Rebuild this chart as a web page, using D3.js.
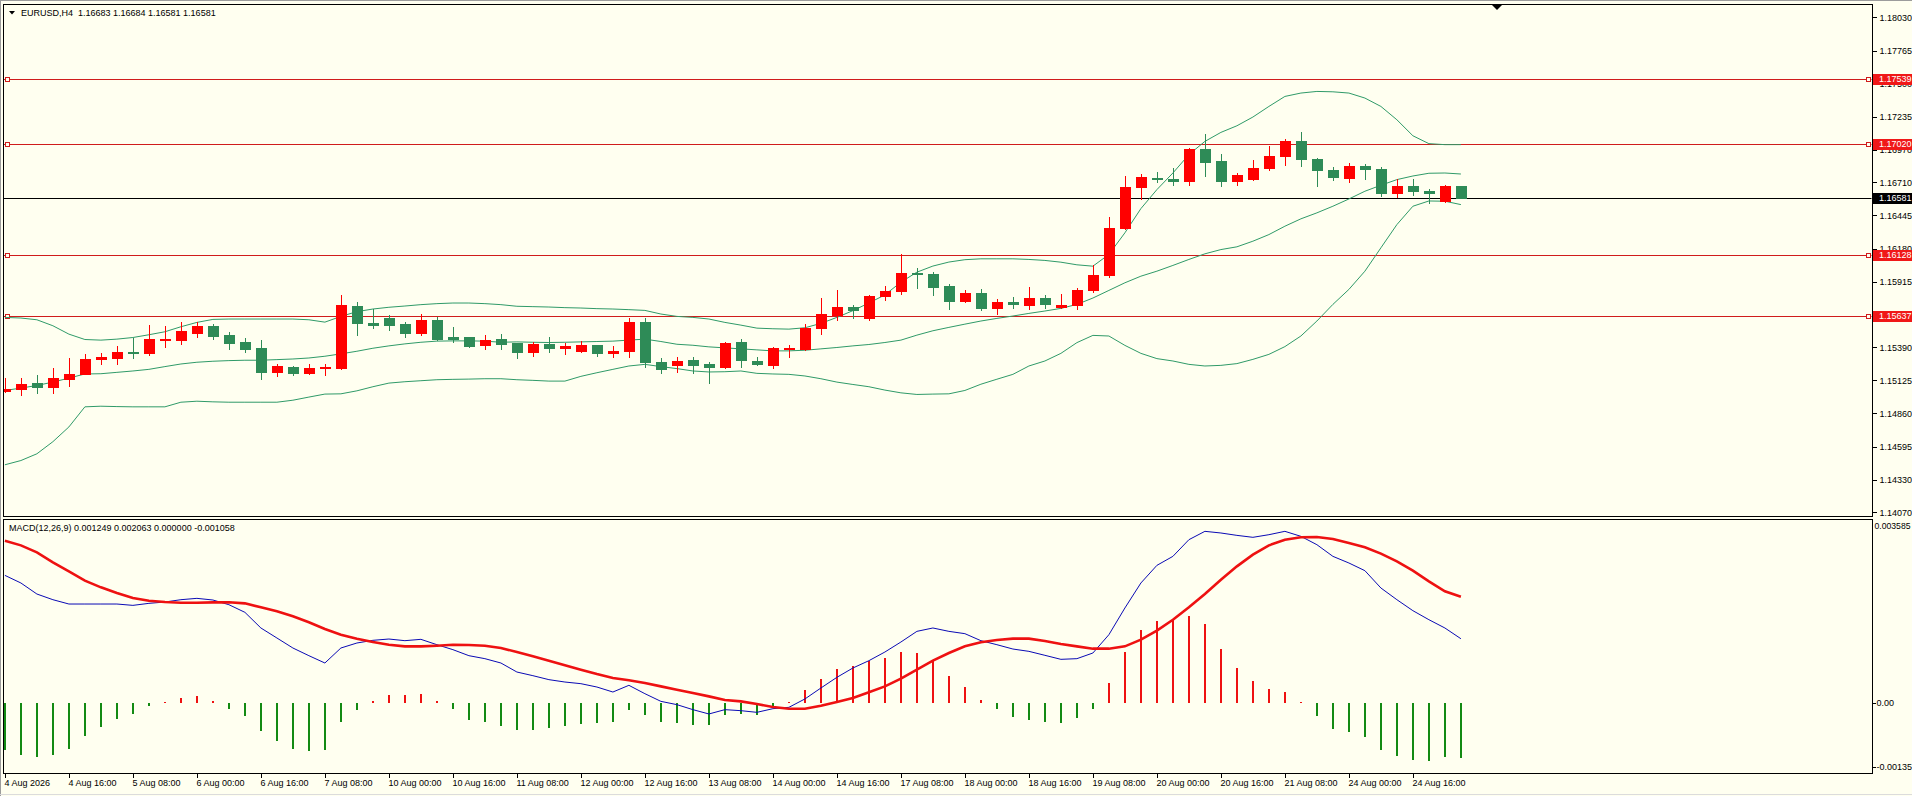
<!DOCTYPE html>
<html><head><meta charset="utf-8">
<script src="https://cdn.jsdelivr.net/npm/d3@7/dist/d3.min.js"></script>
<style>
html,body{margin:0;padding:0;background:#fffff0;overflow:hidden;}
svg{display:block;}
text{font-family:"Liberation Sans",Arial,sans-serif;font-size:9px;}
</style></head><body>
<svg id="c" width="1912" height="796"></svg>
<script>
// ---------- categories ----------
const times = [
"4 Aug 00:00","4 Aug 04:00","4 Aug 08:00","4 Aug 12:00","4 Aug 16:00","4 Aug 20:00",
"5 Aug 00:00","5 Aug 04:00","5 Aug 08:00","5 Aug 12:00","5 Aug 16:00","5 Aug 20:00",
"6 Aug 00:00","6 Aug 04:00","6 Aug 08:00","6 Aug 12:00","6 Aug 16:00","6 Aug 20:00",
"7 Aug 00:00","7 Aug 04:00","7 Aug 08:00","7 Aug 12:00","7 Aug 16:00","7 Aug 20:00",
"10 Aug 00:00","10 Aug 04:00","10 Aug 08:00","10 Aug 12:00","10 Aug 16:00","10 Aug 20:00",
"11 Aug 00:00","11 Aug 04:00","11 Aug 08:00","11 Aug 12:00","11 Aug 16:00","11 Aug 20:00",
"12 Aug 00:00","12 Aug 04:00","12 Aug 08:00","12 Aug 12:00","12 Aug 16:00","12 Aug 20:00",
"13 Aug 00:00","13 Aug 04:00","13 Aug 08:00","13 Aug 12:00","13 Aug 16:00","13 Aug 20:00",
"14 Aug 00:00","14 Aug 04:00","14 Aug 08:00","14 Aug 12:00","14 Aug 16:00","14 Aug 20:00",
"17 Aug 00:00","17 Aug 04:00","17 Aug 08:00","17 Aug 12:00","17 Aug 16:00","17 Aug 20:00",
"18 Aug 00:00","18 Aug 04:00","18 Aug 08:00","18 Aug 12:00","18 Aug 16:00","18 Aug 20:00",
"19 Aug 00:00","19 Aug 04:00","19 Aug 08:00","19 Aug 12:00","19 Aug 16:00","19 Aug 20:00",
"20 Aug 00:00","20 Aug 04:00","20 Aug 08:00","20 Aug 12:00","20 Aug 16:00","20 Aug 20:00",
"21 Aug 00:00","21 Aug 04:00","21 Aug 08:00","21 Aug 12:00","21 Aug 16:00","21 Aug 20:00",
"24 Aug 00:00","24 Aug 04:00","24 Aug 08:00","24 Aug 12:00","24 Aug 16:00","24 Aug 20:00",
"25 Aug 00:00","25 Aug 04:00"];

const xTickCats = ["4 Aug 00:00","4 Aug 16:00","5 Aug 08:00","6 Aug 00:00","6 Aug 16:00","7 Aug 08:00",
"10 Aug 00:00","10 Aug 16:00","11 Aug 08:00","12 Aug 00:00","12 Aug 16:00","13 Aug 08:00",
"14 Aug 00:00","14 Aug 16:00","17 Aug 08:00","18 Aug 00:00","18 Aug 16:00","19 Aug 08:00",
"20 Aug 00:00","20 Aug 16:00","21 Aug 08:00","24 Aug 00:00","24 Aug 16:00"];
const xTickLabels = ["4 Aug 2026","4 Aug 16:00","5 Aug 08:00","6 Aug 00:00","6 Aug 16:00","7 Aug 08:00",
"10 Aug 00:00","10 Aug 16:00","11 Aug 08:00","12 Aug 00:00","12 Aug 16:00","13 Aug 08:00",
"14 Aug 00:00","14 Aug 16:00","17 Aug 08:00","18 Aug 00:00","18 Aug 16:00","19 Aug 08:00",
"20 Aug 00:00","20 Aug 16:00","21 Aug 08:00","24 Aug 00:00","24 Aug 16:00"];

const priceTicks = [1.18030,1.17765,1.17500,1.17235,1.16970,1.16710,1.16445,1.16180,1.15915,1.15650,1.15390,1.15125,1.14860,1.14595,1.14330,1.14070];
const macdTicks = [0.003585, 0, -0.00135];
const macdTickLabels = ["0.003585","0.00","-0.00135"];

const levels = [1.17539, 1.17020, 1.16128, 1.15637];
const bid = 1.16581;

// ---------- OHLC ----------
const open = [1.15039,1.15052,1.15100,1.15074,1.15138,1.15178,1.15296,1.15307,1.15355,1.15345,
1.15452,1.15452,1.15508,1.15557,1.15487,1.15430,1.15382,1.15192,1.15229,1.15184,
1.15227,1.15224,1.15717,1.15581,1.15624,1.15575,1.15506,1.15607,1.15471,1.15471,
1.15412,1.15455,1.15422,1.15353,1.15417,1.15387,1.15363,1.15404,1.15345,1.15363,
1.15589,1.15275,1.15251,1.15286,1.15253,1.15235,1.15436,1.15283,1.15251,1.15379,
1.15379,1.15546,1.15648,1.15709,1.15621,1.15798,1.15838,1.15986,1.15978,1.15881,
1.15758,1.15825,1.15706,1.15754,1.15728,1.15786,1.15714,1.15730,1.15850,1.15967,
1.16343,1.16673,1.16748,1.16740,1.16721,1.16977,1.16884,1.16719,1.16737,1.16825,
1.16918,1.17044,1.16897,1.16812,1.16745,1.16844,1.16820,1.16625,1.16681,1.16639,
1.16559,1.16683];
const high = [1.15146,1.15141,1.15165,1.15227,1.15302,1.15334,1.15347,1.15401,1.15463,1.15567,
1.15562,1.15589,1.15589,1.15575,1.15514,1.15463,1.15447,1.15253,1.15240,1.15253,
1.15253,1.15809,1.15755,1.15696,1.15648,1.15589,1.15656,1.15634,1.15551,1.15476,
1.15492,1.15495,1.15428,1.15436,1.15476,1.15428,1.15444,1.15409,1.15398,1.15624,
1.15624,1.15302,1.15310,1.15310,1.15275,1.15436,1.15455,1.15315,1.15393,1.15406,
1.15575,1.15785,1.15849,1.15728,1.15809,1.15878,1.16139,1.16023,1.15991,1.15895,
1.15849,1.15857,1.15773,1.15792,1.15874,1.15805,1.15813,1.15866,1.16045,1.16431,
1.16764,1.16777,1.16793,1.16825,1.16985,1.17097,1.16937,1.16785,1.16892,1.17004,
1.17057,1.17110,1.16908,1.16833,1.16865,1.16860,1.16830,1.16740,1.16740,1.16655,
1.16692,1.16684];
const low = [1.15033,1.15006,1.15020,1.15020,1.15079,1.15173,1.15253,1.15253,1.15302,1.15328,
1.15393,1.15414,1.15473,1.15460,1.15374,1.15350,1.15133,1.15159,1.15167,1.15173,
1.15167,1.15213,1.15487,1.15543,1.15527,1.15473,1.15487,1.15449,1.15433,1.15390,
1.15377,1.15379,1.15304,1.15320,1.15353,1.15336,1.15353,1.15320,1.15310,1.15312,
1.15235,1.15181,1.15192,1.15186,1.15100,1.15227,1.15232,1.15248,1.15224,1.15312,
1.15369,1.15495,1.15610,1.15621,1.15610,1.15771,1.15819,1.15865,1.15811,1.15696,
1.15752,1.15691,1.15658,1.15706,1.15698,1.15706,1.15706,1.15693,1.15834,1.15954,
1.16338,1.16577,1.16711,1.16687,1.16687,1.16764,1.16679,1.16687,1.16727,1.16812,
1.16852,1.16838,1.16679,1.16727,1.16711,1.16740,1.16599,1.16591,1.16612,1.16545,
1.16551,1.16581];
const close = [1.15057,1.15098,1.15074,1.15141,1.15178,1.15294,1.15310,1.15355,1.15345,1.15455,
1.15457,1.15524,1.15557,1.15481,1.15425,1.15377,1.15192,1.15237,1.15184,1.15227,
1.15232,1.15728,1.15586,1.15565,1.15570,1.15506,1.15605,1.15457,1.15457,1.15396,
1.15452,1.15417,1.15353,1.15414,1.15387,1.15398,1.15404,1.15345,1.15363,1.15589,
1.15272,1.15218,1.15283,1.15248,1.15232,1.15428,1.15288,1.15256,1.15382,1.15387,
1.15548,1.15653,1.15709,1.15685,1.15798,1.15841,1.15986,1.15975,1.15876,1.15763,
1.15822,1.15707,1.15754,1.15738,1.15786,1.15738,1.15730,1.15850,1.15970,1.16346,
1.16673,1.16753,1.16737,1.16721,1.16977,1.16870,1.16719,1.16767,1.16825,1.16918,
1.17044,1.16897,1.16806,1.16751,1.16838,1.16814,1.16623,1.16679,1.16639,1.16623,
1.16679,1.16581];

// ---------- Bollinger bands ----------
const bbUpper = [1.15629,1.15624,1.15610,1.15562,1.15495,1.15452,1.15447,1.15455,1.15468,1.15490,
1.15514,1.15554,1.15589,1.15613,1.15616,1.15616,1.15616,1.15616,1.15616,1.15610,
1.15591,1.15637,1.15675,1.15696,1.15710,1.15720,1.15731,1.15739,1.15744,1.15744,
1.15739,1.15731,1.15718,1.15715,1.15712,1.15707,1.15704,1.15699,1.15696,1.15691,
1.15685,1.15656,1.15637,1.15629,1.15616,1.15589,1.15567,1.15543,1.15538,1.15535,
1.15546,1.15581,1.15629,1.15683,1.15744,1.15809,1.15911,1.15991,1.16040,1.16072,
1.16091,1.16098,1.16098,1.16098,1.16093,1.16085,1.16071,1.16050,1.16039,1.16133,
1.16306,1.16500,1.16652,1.16785,1.16932,1.17038,1.17110,1.17163,1.17233,1.17318,
1.17398,1.17425,1.17438,1.17435,1.17425,1.17385,1.17318,1.17211,1.17083,1.17020,
1.17012,1.17012];
const bbMiddle = [1.15044,1.15063,1.15084,1.15111,1.15143,1.15176,1.15178,1.15189,1.15200,1.15213,
1.15235,1.15256,1.15270,1.15278,1.15283,1.15286,1.15286,1.15291,1.15296,1.15304,
1.15318,1.15337,1.15358,1.15382,1.15401,1.15417,1.15430,1.15439,1.15441,1.15441,
1.15439,1.15430,1.15433,1.15430,1.15428,1.15430,1.15433,1.15436,1.15439,1.15447,
1.15455,1.15436,1.15414,1.15406,1.15393,1.15385,1.15377,1.15369,1.15361,1.15361,
1.15366,1.15377,1.15388,1.15401,1.15412,1.15428,1.15447,1.15487,1.15522,1.15549,
1.15575,1.15600,1.15621,1.15640,1.15661,1.15680,1.15701,1.15733,1.15784,1.15845,
1.15906,1.15959,1.15999,1.16045,1.16093,1.16138,1.16172,1.16194,1.16239,1.16292,
1.16359,1.16418,1.16466,1.16519,1.16577,1.16639,1.16687,1.16732,1.16761,1.16783,
1.16785,1.16777];
const bbLower = [1.14449,1.14483,1.14537,1.14634,1.14752,1.14913,1.14918,1.14915,1.14913,1.14913,
1.14913,1.14950,1.14958,1.14953,1.14950,1.14950,1.14950,1.14950,1.14966,1.14991,
1.15015,1.15017,1.15041,1.15074,1.15103,1.15114,1.15122,1.15130,1.15133,1.15135,
1.15138,1.15138,1.15130,1.15125,1.15119,1.15119,1.15157,1.15186,1.15213,1.15240,
1.15253,1.15235,1.15219,1.15200,1.15192,1.15194,1.15200,1.15181,1.15176,1.15173,
1.15160,1.15138,1.15111,1.15092,1.15074,1.15047,1.15025,1.15012,1.15015,1.15017,
1.15044,1.15094,1.15134,1.15173,1.15240,1.15280,1.15341,1.15427,1.15485,1.15480,
1.15405,1.15341,1.15299,1.15280,1.15253,1.15240,1.15245,1.15259,1.15293,1.15333,
1.15395,1.15480,1.15600,1.15733,1.15853,1.15999,1.16186,1.16372,1.16519,1.16561,
1.16559,1.16532];

// ---------- MACD ----------
const macdMain = [0.002478,0.002330,0.002116,0.002006,0.001922,0.001922,0.001922,0.001922,0.001896,0.001935,
0.001961,0.002006,0.002032,0.002000,0.001909,0.001761,0.001457,0.001263,0.001069,0.000920,
0.000778,0.001069,0.001166,0.001218,0.001243,0.001211,0.001237,0.001133,0.001037,0.000920,
0.000862,0.000778,0.000603,0.000532,0.000455,0.000409,0.000377,0.000312,0.000215,0.000345,
0.000183,0.000034,-0.000030,-0.000127,-0.000211,-0.000127,-0.000147,-0.000179,-0.000108,-0.000082,
0.000080,0.000293,0.000500,0.000681,0.000823,0.000991,0.001185,0.001392,0.001457,0.001392,
0.001347,0.001211,0.001133,0.001049,0.001004,0.000927,0.000849,0.000862,0.000972,0.001327,
0.001845,0.002330,0.002672,0.002847,0.003170,0.003332,0.003300,0.003254,0.003216,0.003267,
0.003332,0.003235,0.003073,0.002847,0.002718,0.002569,0.002233,0.002006,0.001793,0.001618,
0.001457,0.001249];
const macdSignal = [0.003151,0.003060,0.002925,0.002731,0.002556,0.002375,0.002246,0.002136,0.002039,0.001987,
0.001961,0.001948,0.001948,0.001955,0.001955,0.001935,0.001858,0.001780,0.001683,0.001567,
0.001437,0.001327,0.001250,0.001185,0.001133,0.001101,0.001101,0.001114,0.001133,0.001127,
0.001114,0.001069,0.000991,0.000907,0.000823,0.000733,0.000649,0.000564,0.000487,0.000442,
0.000390,0.000325,0.000261,0.000196,0.000131,0.000060,0.000034,-0.000017,-0.000076,-0.000108,
-0.000108,-0.000050,0.000021,0.000099,0.000209,0.000325,0.000474,0.000649,0.000823,0.000972,
0.001101,0.001179,0.001224,0.001250,0.001250,0.001205,0.001146,0.001101,0.001056,0.001056,
0.001101,0.001230,0.001405,0.001618,0.001858,0.002116,0.002394,0.002653,0.002879,0.003060,
0.003170,0.003216,0.003222,0.003183,0.003106,0.003022,0.002899,0.002750,0.002569,0.002362,
0.002168,0.002063];
const macdHist = [-0.000900,-0.000997,-0.001048,-0.000997,-0.000881,-0.000643,-0.000469,-0.000302,-0.000206,-0.000064,
0.000013,0.000090,0.000129,0.000045,-0.000109,-0.000257,-0.000547,-0.000727,-0.000881,-0.000920,
-0.000900,-0.000373,-0.000129,0.000045,0.000161,0.000148,0.000180,0.000045,-0.000109,-0.000322,
-0.000373,-0.000437,-0.000514,-0.000514,-0.000489,-0.000450,-0.000399,-0.000392,-0.000373,-0.000129,
-0.000238,-0.000373,-0.000392,-0.000418,-0.000431,-0.000238,-0.000219,-0.000238,-0.000096,0.000026,
0.000250,0.000466,0.000660,0.000724,0.000821,0.000873,0.000989,0.000970,0.000821,0.000524,
0.000310,0.000065,-0.000109,-0.000276,-0.000322,-0.000373,-0.000392,-0.000296,-0.000109,0.000394,
0.000989,0.001416,0.001597,0.001604,0.001694,0.001532,0.001047,0.000679,0.000433,0.000272,
0.000213,0.000020,-0.000257,-0.000495,-0.000566,-0.000662,-0.000913,-0.001029,-0.001106,-0.001125,
-0.001048,-0.001058];

// ---------- drawing ----------
const W = 1912, H = 796;
const L = 3, R = 1872;
const mainTop = 4, mainBot = 516, macdTop = 518.5, macdBot = 772.7;
const BG = "#fffff0";
const UP = "#ff0000", DOWN = "#2e8b57";
const LEVEL = "#d01c1c";

const svg = d3.select("#c");
svg.append("rect").attr("width", W).attr("height", H).attr("fill", BG);

const x = d3.scalePoint().domain(times).range([4.9, 1460.9]);
const y = d3.scaleLinear().domain([1.14039, 1.18138]).range([mainBot, mainTop]);
const ym = d3.scaleLinear().domain([-0.00135, 0.003585]).range([macdBot, macdTop - 0.2]);

const defs = svg.append("defs");
defs.append("clipPath").attr("id", "cm").append("rect")
  .attr("x", L + 0.5).attr("y", mainTop + 0.5).attr("width", R - L - 1).attr("height", mainBot - mainTop - 1);
defs.append("clipPath").attr("id", "cd").append("rect")
  .attr("x", L + 0.5).attr("y", macdTop + 0.5).attr("width", R - L - 1).attr("height", macdBot - macdTop - 1);

const gm = svg.append("g").attr("clip-path", "url(#cm)");
const gd = svg.append("g").attr("clip-path", "url(#cd)");
const px = v => Math.round(v) + 0.5;

// levels
levels.forEach(v => {
  gm.append("line").attr("x1", L).attr("x2", R).attr("y1", px(y(v))).attr("y2", px(y(v)))
    .attr("stroke", LEVEL).attr("stroke-width", 1).attr("shape-rendering", "crispEdges");
  gm.append("rect").attr("x", 5.5).attr("y", Math.round(y(v)) - 1.5).attr("width", 4).attr("height", 4)
    .attr("fill", BG).attr("stroke", LEVEL).attr("shape-rendering", "crispEdges");
  gm.append("rect").attr("x", 1866.5).attr("y", Math.round(y(v)) - 1.5).attr("width", 4).attr("height", 4)
    .attr("fill", BG).attr("stroke", LEVEL).attr("shape-rendering", "crispEdges");
});
gm.append("line").attr("x1", L).attr("x2", R).attr("y1", px(y(bid))).attr("y2", px(y(bid)))
  .attr("stroke", "#000").attr("shape-rendering", "crispEdges");

// Bollinger bands
const bbLine = arr => d3.line().x((d, i) => x(times[i])).y(d => y(d))(arr);
[bbUpper, bbMiddle, bbLower].forEach(a => {
  gm.append("path").attr("d", bbLine(a)).attr("fill", "none")
    .attr("stroke", "#2f9a68").attr("stroke-width", 1);
});

// candles
const candles = gm.append("g").attr("shape-rendering", "crispEdges");
times.forEach((t, i) => {
  const o = open[i], h = high[i], l = low[i], c = close[i];
  const col = c >= o ? UP : DOWN;
  const cx = Math.round(x(t));
  candles.append("line").attr("x1", cx + 0.5).attr("x2", cx + 0.5)
    .attr("y1", Math.round(y(h))).attr("y2", Math.round(y(l)) + 1).attr("stroke", col);
  const top = Math.round(y(Math.max(o, c))), bot = Math.round(y(Math.min(o, c)));
  candles.append("rect").attr("x", cx - 5).attr("y", top).attr("width", 11)
    .attr("height", Math.max(1, bot - top + 1)).attr("fill", col);
});

// MACD histogram
const zeroY = ym(0);
const hist = gd.append("g").attr("shape-rendering", "crispEdges");
times.forEach((t, i) => {
  const v = macdHist[i];
  const cx = Math.round(x(t));
  const yv = ym(v);
  hist.append("rect").attr("x", cx - 1).attr("width", 2)
    .attr("y", Math.min(yv, zeroY)).attr("height", Math.max(1, Math.abs(yv - zeroY)))
    .attr("fill", v >= 0 ? "#ee1111" : "#138a13");
});
const mline = arr => d3.line().x((d, i) => x(times[i])).y(d => ym(d))(arr);
gd.append("path").attr("d", mline(macdMain)).attr("fill", "none").attr("stroke", "#0a0ab4").attr("stroke-width", 1);
gd.append("path").attr("d", mline(macdSignal)).attr("fill", "none").attr("stroke", "#ee1111").attr("stroke-width", 2.6);

// frames
svg.append("line").attr("x1", 0).attr("x2", W).attr("y1", 0.5).attr("y2", 0.5).attr("stroke", "#9c9c9c");
svg.append("line").attr("x1", 0.5).attr("x2", 0.5).attr("y1", 0).attr("y2", H).attr("stroke", "#9c9c9c");
svg.append("line").attr("x1", 0).attr("x2", W).attr("y1", 794.5).attr("y2", 794.5).attr("stroke", "#dcdcdc");
[[mainTop, mainBot], [macdTop, macdBot]].forEach(([t, b]) => {
  svg.append("rect").attr("x", L + 0.5).attr("y", Math.round(t) + 0.5)
    .attr("width", R - L).attr("height", Math.round(b) - Math.round(t))
    .attr("fill", "none").attr("stroke", "#000").attr("shape-rendering", "crispEdges");
});

// price axis
const ay = svg.append("g").attr("transform", `translate(${R + 0.5},0)`)
  .call(d3.axisRight(y).tickValues(priceTicks).tickSize(4).tickPadding(3).tickFormat(d3.format(".5f")));
ay.select(".domain").remove();
ay.attr("font-family", null).attr("font-size", null);
ay.selectAll("text").attr("fill", "#000");
ay.selectAll("line").attr("stroke", "#000").attr("shape-rendering", "crispEdges");

// macd axis
const am = svg.append("g").attr("transform", `translate(${R + 0.5},0)`)
  .call(d3.axisRight(ym).tickValues(macdTicks).tickSize(3).tickPadding(1)
    .tickFormat((d, i) => macdTickLabels[i]));
am.select(".domain").remove();
am.attr("font-family", null).attr("font-size", null);
am.selectAll("text").attr("fill", "#000");
am.selectAll("line").attr("stroke", "#000").attr("shape-rendering", "crispEdges");
am.selectAll(".tick").filter(d => d === macdTicks[0]).attr("transform", "translate(0,526)")
  .call(g => { g.select("line").remove(); g.select("text").attr("x", 2).attr("textLength", 36).attr("lengthAdjust", "spacingAndGlyphs"); });
am.selectAll(".tick").filter(d => d === macdTicks[2]).attr("transform", "translate(0,767)");

// level labels
levels.forEach(v => {
  const yy = Math.round(y(v));
  svg.append("rect").attr("x", R + 1).attr("y", yy - 5).attr("width", W - R - 1).attr("height", 11)
    .attr("fill", "#f01818").attr("shape-rendering", "crispEdges");
  svg.append("text").attr("x", 1879).attr("y", yy).attr("dy", "0.34em").attr("fill", "#fff").text(d3.format(".5f")(v));
});
{
  const yy = Math.round(y(bid));
  svg.append("rect").attr("x", R + 1).attr("y", yy - 5).attr("width", W - R - 1).attr("height", 11)
    .attr("fill", "#000").attr("shape-rendering", "crispEdges");
  svg.append("text").attr("x", 1879).attr("y", yy).attr("dy", "0.34em").attr("fill", "#fff").text(d3.format(".5f")(bid));
}

// time axis
const ax = svg.append("g").attr("transform", `translate(0,${Math.round(macdBot) + 0.5})`)
  .call(d3.axisBottom(x).tickValues(xTickCats).tickSize(4).tickPadding(2)
    .tickFormat((d, i) => xTickLabels[i]));
ax.select(".domain").remove();
ax.attr("font-family", null).attr("font-size", null);
ax.selectAll("text").attr("text-anchor", "start").attr("x", -1).attr("fill", "#000");
ax.selectAll("line").attr("stroke", "#000").attr("shape-rendering", "crispEdges");

// titles
svg.append("path").attr("d", "M9,11 L15,11 L12,14.5 Z").attr("fill", "#000");
svg.append("text").attr("x", 21).attr("y", 16).attr("fill", "#000")
  .style("white-space", "pre")
  .text("EURUSD,H4  1.16683 1.16684 1.16581 1.16581");
svg.append("text").attr("x", 9).attr("y", 531).attr("fill", "#000")
  .text("MACD(12,26,9) 0.001249 0.002063 0.000000 -0.001058");
// chart shift marker
svg.append("path").attr("d", "M1492,5 L1502,5 L1497,10 Z").attr("fill", "#000");
</script>
</body></html>
